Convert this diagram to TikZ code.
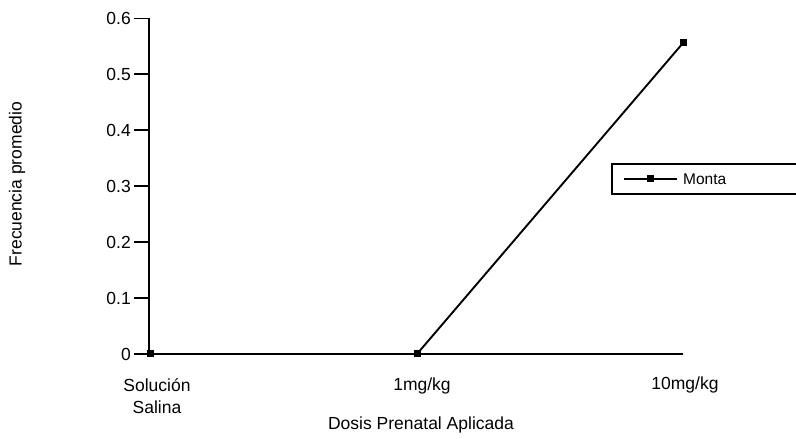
\documentclass[tikz,border=0pt]{standalone}
\usepackage{fontspec}
\setmainfont{Liberation Sans}
\begin{document}
\begin{tikzpicture}[x=1bp,y=-1bp,
  lbl/.style={font=\fontsize{17.5bp}{22bp}\selectfont, inner sep=0pt, align=center},
  ticklbl/.style={font=\fontsize{17.5bp}{20bp}\selectfont, inner sep=0pt, anchor=east},
  pt/.style={fill=black, draw=none, minimum size=7bp, inner sep=0pt, rectangle},
  axisline/.style={line width=2.4bp},
  tickline/.style={line width=1.3bp},
  dataline/.style={line width=1.9bp}]
\useasboundingbox (0,0) rectangle (796,439);
% axes
\coordinate (ytop) at (149,18);
\coordinate (orig) at (149,354);
\coordinate (xend) at (683,354);
\draw[axisline] (ytop) -- (orig);
\draw[dataline] (orig) -- (xend);
% ticks
\foreach \v/\yy/\k in {0/354/a,0.1/298/b,0.2/242/c,0.3/186/d,0.4/130/e,0.5/74/f,0.6/18.5/g}{
  \coordinate (t\k) at (149,\yy);
  \coordinate (tl\k) at (134,\yy);
  \draw[tickline] (tl\k) -- (t\k);
  \node[ticklbl] (lab\k) at (131,\yy) {\v};
}
% data
\node[pt] (p1) at (150,354) {};
\node[pt] (p2) at (417,354) {};
\node[pt] (p3) at (683,43) {};
\draw[dataline] (p1.center) -- (p2.center) -- (p3.center);
% category labels
\node[lbl] (c1) at (157,396) {Solución\\Salina};
\node[lbl] (c2) at (422,386) {1mg/kg};
\node[lbl] (c3) at (685,385) {10mg/kg};
\node[lbl] (xt) at (421,425) {Dosis Prenatal Aplicada};
\node[lbl, rotate=90] (yt) at (17,184) {Frecuencia promedio};
% legend
\coordinate (lg1) at (612,164);
\coordinate (lg2) at (800,194);
\draw[line width=1.1bp] (lg1) rectangle (lg2);
\coordinate (ll1) at (624,179);
\coordinate (ll2) at (677,179);
\draw[dataline] (ll1) -- (ll2);
\node[pt] (lm) at (650,179) {};
\node[font=\fontsize{15.5bp}{18bp}\selectfont, inner sep=0pt, anchor=west] (lt) at (683,179) {Monta};
\end{tikzpicture}
\end{document}
